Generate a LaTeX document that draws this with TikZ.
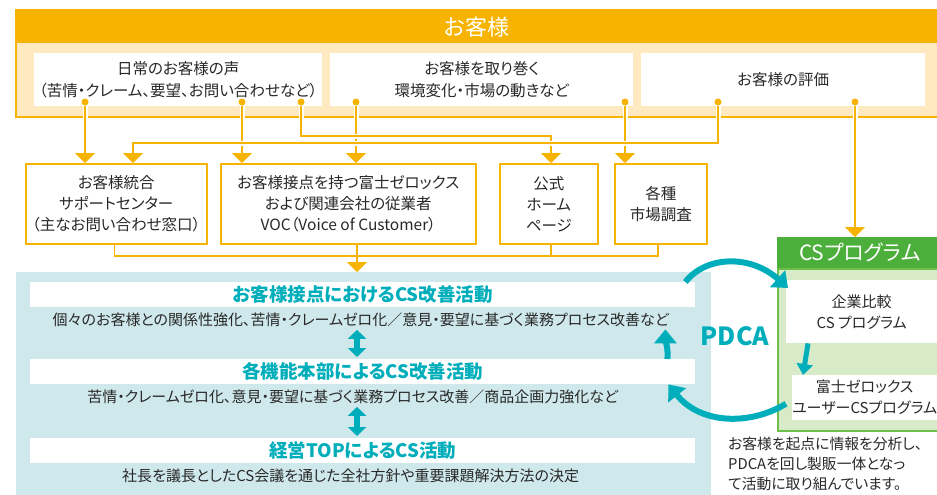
\documentclass[tikz,border=0pt]{standalone}
\usepackage{fontspec}
\setmainfont{Noto Sans CJK JP}[RawFeature=+palt]
\usetikzlibrary{arrows.meta,positioning,calc}
\definecolor{amber}{RGB}{246,180,0}
\definecolor{amberlight}{RGB}{254,233,193}
\definecolor{teal}{RGB}{0,174,187}
\definecolor{teallight}{RGB}{207,232,236}
\definecolor{leaf}{RGB}{76,175,60}
\definecolor{leafline}{RGB}{110,190,75}
\definecolor{leaflight}{RGB}{216,235,200}
\definecolor{ink}{RGB}{40,40,40}
\newcommand{\fsz}[2]{\fontsize{#1}{#2}\selectfont}
\tikzset{
  srcbox/.style  = {fill=white, anchor=north west, inner sep=0pt, align=center,
                    minimum height=53pt, font=\fsz{15.5}{22}},
  chanbox/.style = {draw=amber, line width=1.6pt, fill=white, anchor=north west,
                    inner sep=0pt, align=center, minimum height=80pt, font=\fsz{15.5}{21}},
  wire/.style    = {draw=amber, line width=1.6pt},
  over/.style    = {preaction={draw=white, line width=5pt, -}},
  feed/.style    = {-{Triangle[width=20pt,length=10pt]}},
  dot/.style     = {circle, fill=amber, inner sep=0pt, minimum size=7pt},
  bar/.style     = {fill=white, anchor=north west, inner sep=0pt, minimum width=665pt,
                    minimum height=25pt, text=teal, font=\bfseries\fsz{18.5}{20}},
  detail/.style  = {inner sep=0pt, font=\fsz{15}{18}},
  updown/.style  = {draw=teal, line width=6pt,
                    {Triangle[width=18pt,length=9pt]}-{Triangle[width=18pt,length=9pt]}},
  pdcaarrow/.style = {draw=teal, line width=6pt, -{Triangle[width=22pt,length=14pt]}},
  csbox/.style   = {fill=white, anchor=north west, inner sep=0pt, align=center,
                    font=\fsz{15}{21}},
}
\begin{document}
\begin{tikzpicture}[x=1pt, y=-1pt, every node/.style={text=ink}]
  \useasboundingbox (0,0) rectangle (937,495);

  % customer band
  \node[fill=amberlight, anchor=north west, inner sep=0pt,
        minimum width=929pt, minimum height=107pt] (band) at (16,10) {};
  \draw[amber, line width=2pt] (band.north east) -| (band.south west) -- (band.south east);
  \node[fill=amber, anchor=north west, inner sep=0pt, minimum width=921pt,
        minimum height=33pt, text=white, font=\fsz{22}{22}] (head) at (16,10) {お客様};
  \node[srcbox, minimum width=288pt] (voice) at (34,53)
    {日常のお客様の声\\（苦情・クレーム、要望、お問い合わせなど）};
  \node[srcbox, minimum width=303pt] (env) at (330,53)
    {お客様を取り巻く\\環境変化・市場の動きなど};
  \node[srcbox, minimum width=284pt] (eval) at (641,53) {お客様の評価};
  \foreach \n/\x in {1/85,2/242,3/301,4/356,5/625,6/718,7/855}
    \node[dot] (d\n) at (\x,102) {};

  % channels
  \node[chanbox, minimum width=181pt] (center) at (25,163)
    {お客様統合\\サポートセンター\\（主なお問い合わせ窓口）};
  \node[chanbox, minimum width=255pt] (staff) at (220,163)
    {お客様接点を持つ富士ゼロックス\\および関連会社の従業者\\VOC（Voice of Customer）};
  \node[chanbox, minimum width=98pt] (web) at (499,163) {公式\\ホーム\\ページ};
  \node[chanbox, minimum width=92pt] (survey) at (614,163) {各種\\市場調査};

  % CS program
  \node[fill=leaf, anchor=north west, inner sep=0pt, minimum width=165pt,
        minimum height=31pt, text=white, font=\fsz{21}{21}] (cshead) at (777,237) {CSプログラム};
  \node[draw=leafline, line width=2pt, fill=leaflight, anchor=north west, inner sep=0pt,
        minimum width=170pt, minimum height=162pt] (cspanel) at (777,268) {};
  \node[csbox, minimum width=151pt, minimum height=63pt] (bench) at (786,280)
    {企業比較\\CS プログラム};
  \node[csbox, minimum width=145pt, minimum height=45pt] (user) at (792,375)
    {富士ゼロックス\\ユーザーCSプログラム};

  \coordinate (j1) at (551,136);
  \coordinate (j2) at (133,143);
  \draw[wire, over, feed] (d1) -- (d1 |- center.north);
  \draw[wire, over, feed] (d2) -- (d2 |- staff.north);
  \draw[wire, over, feed] (d4) -- (d4 |- staff.north);
  \draw[wire, over, feed] (d5) -- (d5 |- survey.north);
  \draw[wire, over, feed] (d7) -- (d7 |- cshead.north);
  \draw[wire, over, feed] (d3) |- (j1) -- (j1 |- web.north);
  \draw[wire, over, feed] (d6) |- (j2) -- (j2 |- center.north);

  % activities
  \node[fill=teallight, anchor=north west, inner sep=0pt, minimum width=695pt,
        minimum height=230pt] (panel) at (16,272) {};
  \coordinate (bus) at (357,256);
  \draw[wire] ([xshift=-2pt]center.south) |- ([xshift=-3pt]survey.south |- bus)
    -- ([xshift=-3pt]survey.south);
  \draw[wire] ([xshift=2pt]web.south) -- ([xshift=2pt]web.south |- bus);
  \draw[wire, feed] (staff.south -| bus) -- (bus |- panel.north);

  \node[bar] (act1) at (30,282) {お客様接点におけるCS改善活動};
  \node[detail, below=5pt of act1, xshift=-2pt] (sub1)
    {個々のお客様との関係性強化、苦情・クレームゼロ化／意見・要望に基づく業務プロセス改善など};
  \node[bar] (act2) at (30,359) {各機能本部によるCS改善活動};
  \node[detail, below=5pt of act2, xshift=-10pt] (sub2)
    {苦情・クレームゼロ化、意見・要望に基づく業務プロセス改善／商品企画力強化など};
  \node[bar] (act3) at (30,438) {経営TOPによるCS活動};
  \node[detail, below=5pt of act3, xshift=-12pt] (sub3)
    {社長を議長としたCS会議を通じた全社方針や重要課題解決方法の決定};
  \draw[updown] ([yshift=-3pt]sub1.south -| bus) -- ([yshift=2pt]act2.north -| bus);
  \draw[updown] ([yshift=-3pt]sub2.south -| bus) -- ([yshift=2pt]act3.north -| bus);

  % PDCA cycle
  \draw[pdcaarrow] ([xshift=-10pt]act1.north east) .. controls +(20,-26) and +(-38,-34)
    .. ([shift={(2pt,-8pt)}]bench.north west);
  \draw[teal, line width=5pt, -{Triangle[width=16pt,length=11pt]}]
    ([xshift=22pt]bench.south west) -- ([xshift=11pt]user.north west);
  \draw[pdcaarrow] ([shift={(-6pt,-6pt)}]user.west) .. controls +(-36,22) and +(32,40)
    .. ([xshift=-27pt]act2.south east);
  \draw[pdcaarrow] ([xshift=-28pt]act2.north east) .. controls +(1,-10) and +(0,10)
    .. ([shift={(-30pt,-22pt)}]act1.south east);
  \node[text=teal, font=\bfseries\fsz{25}{25}] (pdca) at (735,336) {PDCA};

  \node[anchor=north west, inner sep=0pt, align=left, font=\fsz{14.8}{20}] (note) at (728,437)
    {お客様を起点に情報を分析し、\\PDCAを回し製販一体となっ\\て活動に取り組んでいます。};
\end{tikzpicture}
\end{document}
